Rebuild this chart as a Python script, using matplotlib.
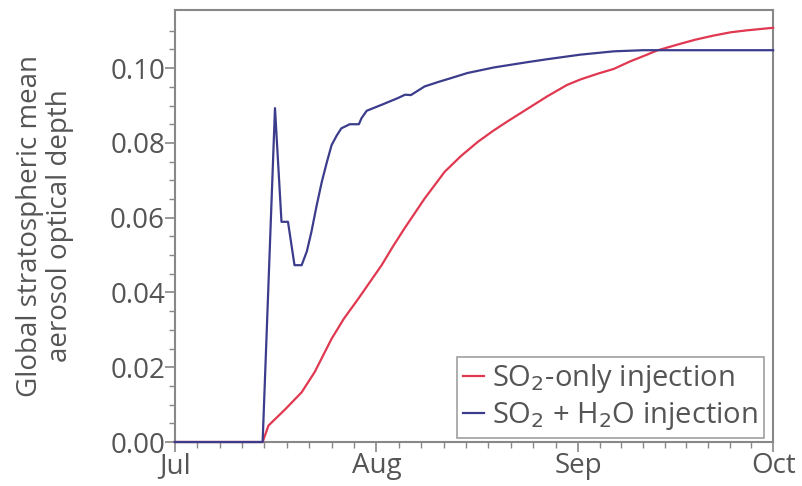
import numpy as np
import matplotlib
matplotlib.use("Agg")
import matplotlib.pyplot as plt
from matplotlib.ticker import FixedLocator

plt.rcParams['font.family'] = ['Open Sans', 'DejaVu Sans']

# days since 1 July
so2_days = [0, 13.5, 14.4, 17.0, 19.5, 21.5, 24.1, 26.0, 28.2, 30.0, 31.8, 33.5,
            35.3, 38.4, 41.5, 44.0, 46.6, 49.0, 51.1, 55.2, 57.3, 60.3, 62.4,
            65.0, 67.5, 70.0, 72.6, 74.1, 77.7, 80.0, 82.8, 85.5, 87.9, 92]
so2_aod = [0, 0, 0.0044, 0.0088, 0.0133, 0.0187, 0.0276, 0.0330, 0.0383, 0.0428,
           0.0473, 0.0522, 0.0571, 0.0651, 0.0723, 0.0765, 0.0803, 0.0833,
           0.0857, 0.0902, 0.0925, 0.0955, 0.0970, 0.0985, 0.0998, 0.1018,
           0.1036, 0.1047, 0.1065, 0.1076, 0.1087, 0.1096, 0.1101, 0.1108]

h2o_days = [0, 13.5, 15.4, 16.4, 17.4, 18.4, 19.5, 20.3, 21.0, 21.8, 22.6, 23.4,
            24.1, 24.9, 25.6, 26.9, 28.3, 28.7, 29.5, 31.8, 34.3, 35.4, 36.3,
            38.4, 40.5, 42.4, 45.0, 49.1, 54.2, 57.3, 62.3, 67.5, 72.0, 80, 92]
h2o_aod = [0, 0, 0.0893, 0.0589, 0.0589, 0.0473, 0.0473, 0.0510, 0.0562, 0.0632,
           0.0696, 0.0750, 0.0794, 0.0820, 0.0839, 0.0850, 0.0850, 0.0866,
           0.0886, 0.0902, 0.0920, 0.0929, 0.0928, 0.0951, 0.0963, 0.0973,
           0.0987, 0.1002, 0.1016, 0.1024, 0.1036, 0.1045, 0.1048, 0.1048, 0.1048]

month_days = [0, 31, 62, 92]
month_labels = ['Jul', 'Aug', 'Sep', 'Oct']

grey = '#555555'
red = '#e03850'
blue = '#3c3c8c'

fig = plt.figure(figsize=(8.02, 4.86), dpi=100)
ax = fig.add_axes([0.218, 0.0905, 0.746, 0.8885])

ax.plot(so2_days, so2_aod, color=red, lw=1.6, label='SO$_2$-only injection',
        clip_on=False, zorder=4)
ax.plot(h2o_days, h2o_aod, color=blue, lw=1.6, label='SO$_2$ + H$_2$O injection',
        clip_on=False, zorder=5)

ax.set_xlim(0, 92)
ax.set_ylim(0, 0.1155)

ax.set_xticks(month_days)
ax.set_xticklabels(month_labels)
minor_x = []
for a, b in zip(month_days[:-1], month_days[1:]):
    minor_x += list(np.linspace(a, b, 10)[1:-1])
ax.xaxis.set_minor_locator(FixedLocator(minor_x))

ax.set_yticks([0, 0.02, 0.04, 0.06, 0.08, 0.10])
ax.set_yticklabels(['0.00', '0.02', '0.04', '0.06', '0.08', '0.10'])
ax.yaxis.set_minor_locator(FixedLocator(np.arange(0, 0.115, 0.005)))

for s in ax.spines.values():
    s.set_color('#888888')
    s.set_linewidth(1.5)

ax.tick_params(which='major', direction='out', length=7, width=1.2,
               color='#888888', labelcolor=grey, labelsize=20, pad=0)
ax.tick_params(which='minor', direction='out', length=4, width=1.0, color='#888888')

ax.set_ylabel('Global stratospheric mean\naerosol optical depth',
              color=grey, fontsize=20, linespacing=1.1)
ax.yaxis.set_label_coords(-0.168, 0.5)

leg = ax.legend(loc='lower right', bbox_to_anchor=(0.985, 0.01), fontsize=21,
                frameon=True, fancybox=False, handlelength=0.7, handletextpad=0.3,
                borderpad=0.2, labelspacing=0.15, borderaxespad=0)
leg.get_frame().set_edgecolor('#888888')
leg.get_frame().set_linewidth(1.2)
for t in leg.get_texts():
    t.set_color(grey)

fig.savefig('out.png', dpi=100)
